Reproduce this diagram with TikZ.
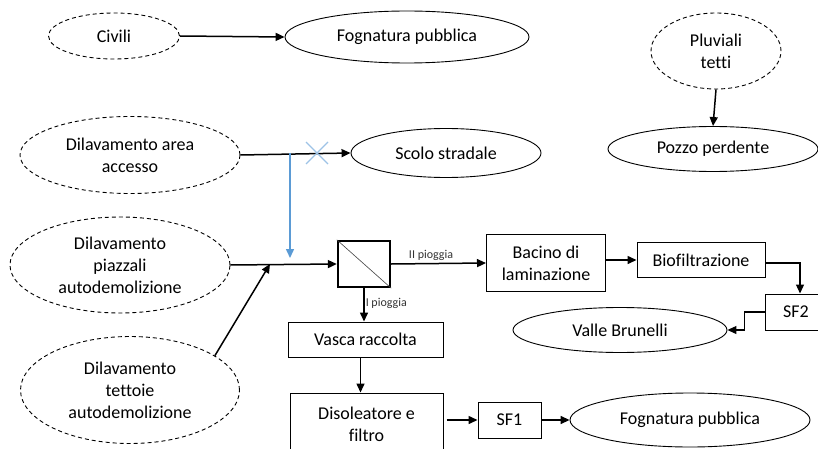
\documentclass[tikz,border=0pt]{standalone}
\usepackage{fontspec}
\setmainfont{Carlito}[Ligatures={NoCommon,NoRare}]
\usetikzlibrary{shapes.geometric,arrows.meta}
\definecolor{bl}{HTML}{5B9BD5}
\definecolor{blx}{HTML}{9DC3E6}
\tikzset{
  src/.style={ellipse,draw,dashed,dash pattern=on 4pt off 3pt,line width=0.9pt,inner sep=0pt,align=center,font=\fontsize{18}{22}\selectfont},
  dst/.style={ellipse,draw,line width=0.9pt,inner sep=0pt,align=center,font=\fontsize{18}{22}\selectfont},
  bx/.style={rectangle,draw,line width=1pt,inner sep=0pt,align=center,font=\fontsize{18}{22}\selectfont},
  con/.style={line width=1.5pt,-{Triangle[length=9pt,width=8pt]}},
  lab/.style={font=\fontsize{12}{14}\selectfont,text=black!80,inner sep=1pt}
}
\begin{document}
\begin{tikzpicture}[x=1pt,y=-1pt]
\useasboundingbox (0,0) rectangle (818,449);
% sources
\node[src,minimum width=131,minimum height=46] (civ) at (114,36) {Civili};
\node[src,minimum width=220,minimum height=77] (acc) at (130,155) {Dilavamento area\\accesso};
\node[src,minimum width=220,minimum height=96] (piaz) at (120,265) {Dilavamento\\piazzali\\autodemolizione};
\node[src,minimum width=219,minimum height=107] (tet) at (130,390) {Dilavamento\\tettoie\\autodemolizione};
\node[src,minimum width=130,minimum height=76] (pluv) at (716,51) {Pluviali\\tetti};
% destinations
\node[dst,minimum width=244,minimum height=52] (fog1) at (407,37) {Fognatura pubblica};
\node[dst,minimum width=190,minimum height=49] (scolo) at (446,153) {Scolo stradale};
\node[dst,minimum width=210,minimum height=45] (pozzo) at (713,149) {Pozzo perdente};
\node[dst,minimum width=214,minimum height=45] (valle) at (620,330) {Valle Brunelli};
\node[dst,minimum width=240,minimum height=54] (fog2) at (690,420) {Fognatura pubblica};
% boxes
\node[rectangle,draw,line width=2.4pt,minimum width=52,minimum height=46,inner sep=0pt] (filt) at (364,264) {};
\draw[line width=0.6pt,black!75] (filt.north west) -- (filt.south east);
\node[bx,minimum width=119,minimum height=57] (bac) at (546,263) {Bacino di\\laminazione};
\node[bx,minimum width=128,minimum height=35] (bio) at (701,260) {Biofiltrazione};
\node[bx,minimum width=62,minimum height=36] (sf2) at (796,312) {SF2};
\node[bx,minimum width=155,minimum height=35] (vas) at (365.5,339.5) {Vasca raccolta};
\node[bx,minimum width=153,minimum height=62] (dis) at (366.5,424) {Disoleatore e\\filtro};
\node[bx,minimum width=63,minimum height=36] (sf1) at (509.5,420) {SF1};
% connectors
\draw[con] (civ.east) -- (fog1.west);
\draw[con] (acc.east) -- (scolo.west);
\coordinate (bj) at (290,153);
\coordinate (bt) at (290,258);
\draw[bl,line width=1.5pt,-{Triangle[length=9pt,width=8pt]}] (bj) -- (bt);
\coordinate (xc) at (317,153);
\draw[blx,line width=1.2pt] ([shift={(-11,-11)}]xc) -- ([shift={(11,11)}]xc) ([shift={(-11,11)}]xc) -- ([shift={(11,-11)}]xc);
\draw[con] (piaz.east) -- (filt.west);
\coordinate (mj) at (270,264);
\draw[con] (tet.22) -- (mj);
\draw[con] (filt.east) -- node[lab,above,pos=0.42,yshift=1pt]{II pioggia} (bac.west);
\draw[con] (filt.south) -- node[lab,right,pos=0.45]{I pioggia} (filt.south |- vas.north);
\draw[con] ([xshift=-5]vas.south) -- ([xshift=-5]vas.south |- dis.north);
\draw[con] (bac.east |- bio.west) -- (bio.west);
\draw[con,line width=1.2pt] ([yshift=-3]bio.east) -| ([xshift=4]sf2.north);
\draw[con,line width=1.2pt] (sf2.west) -- ++(-20,0) |- (valle.east);
\draw[con] ([xshift=3]dis.east |- sf1.west) -- (sf1.west);
\draw[con] (sf1.east) -- (fog2.west);
\draw[con] (pluv.south) -- (pozzo.north);
\end{tikzpicture}
\end{document}
